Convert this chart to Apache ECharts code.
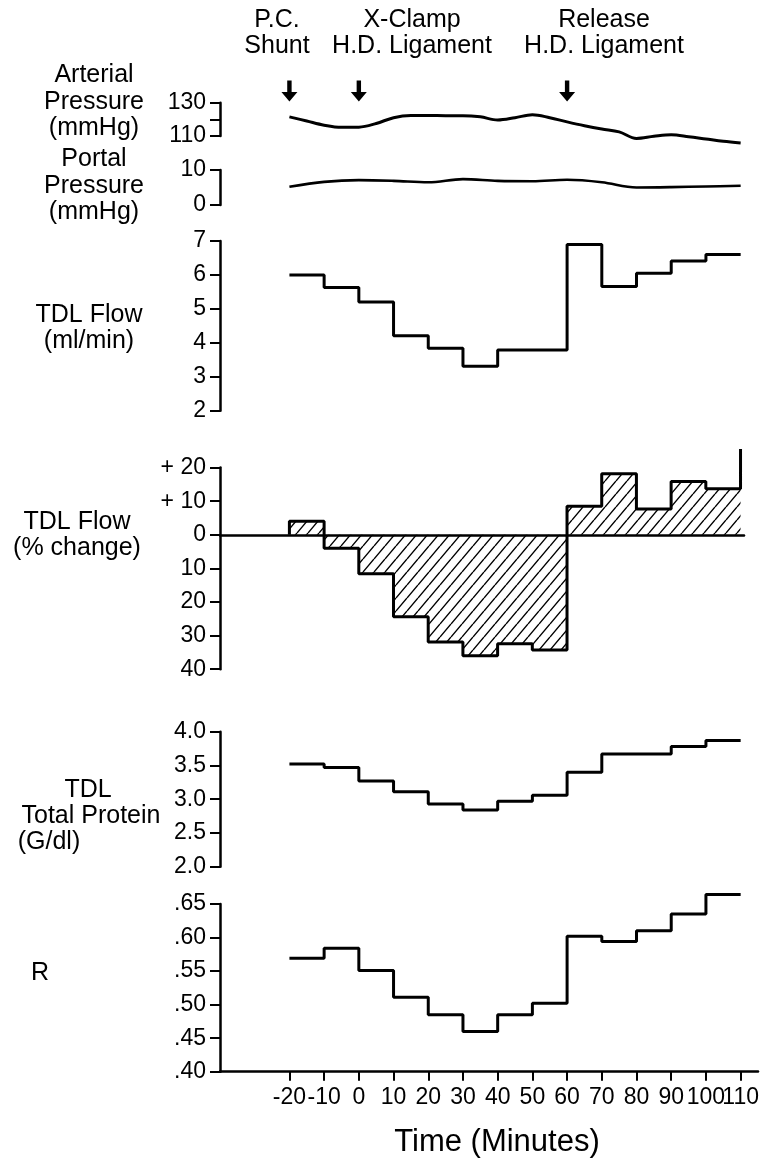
<!DOCTYPE html>
<html><head><meta charset="utf-8">
<script src="https://cdn.jsdelivr.net/npm/echarts@6/dist/echarts.min.js"></script>
<style>html,body{margin:0;padding:0;background:#fff;}#c{width:765px;height:1164px;}</style>
</head><body><div id="c"></div>
<script>
// ---------- DATA ----------
const minutes = [-20,-10,0,10,20,30,40,50,60,70,80,90,100,110];
const xTickLabels = ['-20','-10','0','10','20','30','40','50','60','70','80','90','100','110'];
const eventTimes = [-20, 0, 60];
const eventNames = ['P.C.\nShunt', 'X-Clamp\nH.D. Ligament', 'Release\nH.D. Ligament'];

const arterialTimes = [-20,-15,-10,-5,0,5,10,15,20,25,30,35,40,45,50,55,60,65,70,75,80,85,90,95,100,105,110];
const arterialPressure = [121.5,119,116.5,115.2,115.3,117.5,121,122.3,122.3,122.2,122.2,121.5,119.6,121,122.8,121,118.5,116.2,114.2,112.5,108.5,109.8,110.7,109.6,108.2,106.8,105.8];

const portalTimes = [-20,-10,0,10,20,30,40,50,60,70,80,90,100,110];
const portalPressure = [5.2,6.6,7.1,6.9,6.5,7.4,6.9,6.8,7.2,6.5,5.0,5.1,5.3,5.5];

// step values for each 10-min interval starting at minutes[i] (last edge = 110)
const tdlFlow      = [6.0,5.63,5.2,4.21,3.84,3.31,3.79,3.79,6.9,5.66,6.05,6.41,6.6];
const tdlFlowPct   = [4,-4,-11.6,-24.4,-31.9,-36,-32.4,-34.3,8.5,18.2,7.7,15.9,13.7,25.5]; // last = value at 110 edge
const totalProtein = [3.52,3.47,3.27,3.11,2.93,2.84,2.97,3.06,3.40,3.67,3.67,3.78,3.87];
const rValues      = [0.569,0.584,0.551,0.511,0.485,0.460,0.485,0.502,0.602,0.594,0.610,0.635,0.664];

const pctTicks = [-40,-30,-20,-10,0,10,20];
const pctTickLabels = ['40','30','20','10','0','+ 10','+ 20'];
const arterialTicks = [110,120,130];
const arterialTickLabels = ['110','','130'];

// ---------- HELPERS ----------
const FONT = "'Liberation Sans', Arial, Helvetica, sans-serif";
const BLACK = '#000';
function stepData(vals){
  return minutes.map((t,i)=>[t, vals[Math.min(i, vals.length-1)]]);
}
function hatch(){
  const w=11,h=13;
  const c=document.createElement('canvas'); c.width=w; c.height=h;
  const g=c.getContext('2d');
  g.strokeStyle='#000'; g.lineWidth=1.4;
  g.beginPath();
  for (const dx of [-w,0,w]) { g.moveTo(dx,h); g.lineTo(dx+w,0); }
  g.stroke();
  return c;
}

const LEFT = 220, W = 538, XMIN = -40, XMAX = 115;
const grids = [
  {top:80, height:22},        // 0 events
  {top:102.7, height:33.3},   // 1 arterial
  {top:170, height:35},       // 2 portal
  {top:241, height:169.7},    // 3 flow
  {top:467.6, height:201.6, width:524}, // 4 pct
  {top:731.7, height:135},    // 5 protein
  {top:904, height:167.7}     // 6 R
].map(g=>({left:LEFT, width:g.width||W, top:g.top, height:g.height, containLabel:false}));

const xLabelStyle = {margin:14, fontSize:23, fontFamily:FONT, color:BLACK,
  formatter:v=>xTickLabels[minutes.indexOf(Math.round(v))] ?? ''};
const evenMinutes = minutes.filter((_,i)=>i%2===0);
const oddMinutes  = minutes.filter((_,i)=>i%2===1);

const xAxes = grids.map((g,i)=>({
  gridIndex:i, type:'value', min:XMIN, max: i===4 ? 111 : XMAX, show: i===4 || i===6,
  position:'bottom',
  splitLine:{show:false},
  axisLine:{show:true, onZero: i===4, lineStyle:{color:BLACK, width: 2.5}},
  axisTick: i===6 ? {show:true, customValues:minutes, length:9, inside:false, lineStyle:{color:BLACK,width:2}} : {show:false},
  axisLabel: i===6 ? Object.assign({show:true, customValues:evenMinutes}, xLabelStyle) : {show:false}
}));
// second label row for the R panel (odd ticks), same place, so close labels are not dropped
xAxes.push({gridIndex:6, type:'value', min:XMIN, max:XMAX, show:true, position:'bottom', offset:0,
  splitLine:{show:false}, axisLine:{show:false}, axisTick:{show:false},
  axisLabel:Object.assign({show:true, customValues:oddMinutes}, xLabelStyle)});

function yAx(i, min, max, interval, formatter){
  return {gridIndex:i, type:'value', min, max, interval,
    splitLine:{show:false},
    axisLine:{show:true, onZero:false, lineStyle:{color:BLACK, width:2.5}},
    axisTick:{show:true, length:10, inside:false, lineStyle:{color:BLACK, width:2}},
    axisLabel:{show:true, margin:14, fontSize:23, fontFamily:FONT, color:BLACK, formatter}
  };
}
const yAxes = [
  {gridIndex:0, type:'category', data:['ev'], show:false},
  yAx(1,110,130,10, v=>arterialTickLabels[arterialTicks.indexOf(Math.round(v))] ?? ''),
  yAx(2,0,10,10, v=>String(v)),
  yAx(3,2,7,1, v=>String(v)),
  yAx(4,-40,20,10, v=>pctTickLabels[pctTicks.indexOf(Math.round(v))] ?? ''),
  yAx(5,2,4,0.5, v=>v.toFixed(1)),
  yAx(6,0.40,0.65,0.05, v=>v.toFixed(2).replace(/^0/,''))
];

function lineSeries(i, data, extra){
  return Object.assign({type:'line', xAxisIndex:i, yAxisIndex:i, data, showSymbol:false, clip:false,
    silent:true, lineStyle:{color:BLACK, width:3}, itemStyle:{color:BLACK}}, extra||{});
}

const series = [
  {type:'scatter', xAxisIndex:0, yAxisIndex:0, silent:true,
   data: eventTimes.map(t=>[t,'ev']),
   symbol:'path://M-2.2,0 L2.2,0 L2.2,11 L8,11 L0,20 L-8,11 L-2.2,11 Z', symbolSize:[16,21],
   itemStyle:{color:BLACK, opacity:1}},
  lineSeries(1, arterialTimes.map((t,i)=>[t, arterialPressure[i]]), {smooth:0.35}),
  lineSeries(2, portalTimes.map((t,i)=>[t, portalPressure[i]]), {smooth:0.35, lineStyle:{color:BLACK,width:2.6}}),
  lineSeries(3, stepData(tdlFlow), {step:'end'}),
  lineSeries(4, [[minutes[0],0]].concat(minutes.map((t,i)=>[t, tdlFlowPct[i]])), {step:'end',
     areaStyle:{color:{image:hatch(), repeat:'repeat'}, opacity:1}}),
  lineSeries(5, stepData(totalProtein), {step:'end'}),
  lineSeries(6, stepData(rValues), {step:'end'})
];

function txt(text, x, y, size, align){
  return {type:'text', x, y, silent:true,
    style:{text, fill:BLACK, font:`${size||25}px ${FONT}`, textAlign:align||'center', textVerticalAlign:'middle', lineHeight:26.5}};
}
const graphic = [
  txt(eventNames[0], 277, 33),
  txt(eventNames[1], 412, 33),
  txt(eventNames[2], 604, 33),
  txt('Arterial\nPressure\n(mmHg)', 94, 102),
  txt('Portal\nPressure\n(mmHg)', 94, 186),
  txt('TDL Flow\n(ml/min)', 89, 328),
  txt('TDL Flow\n(% change)', 77, 535),
  txt('TDL', 88, 790),
  txt('Total Protein', 91, 816),
  txt('(G/dl)', 49, 842),
  txt('R', 40, 973),
  txt('Time (Minutes)', 497, 1142, 31)
];

const chart = echarts.init(document.getElementById('c'), null, {renderer:'canvas'});
chart.setOption({
  backgroundColor:'#fff', animation:false,
  grid:grids, xAxis:xAxes, yAxis:yAxes, series, graphic
});
</script></body></html>
